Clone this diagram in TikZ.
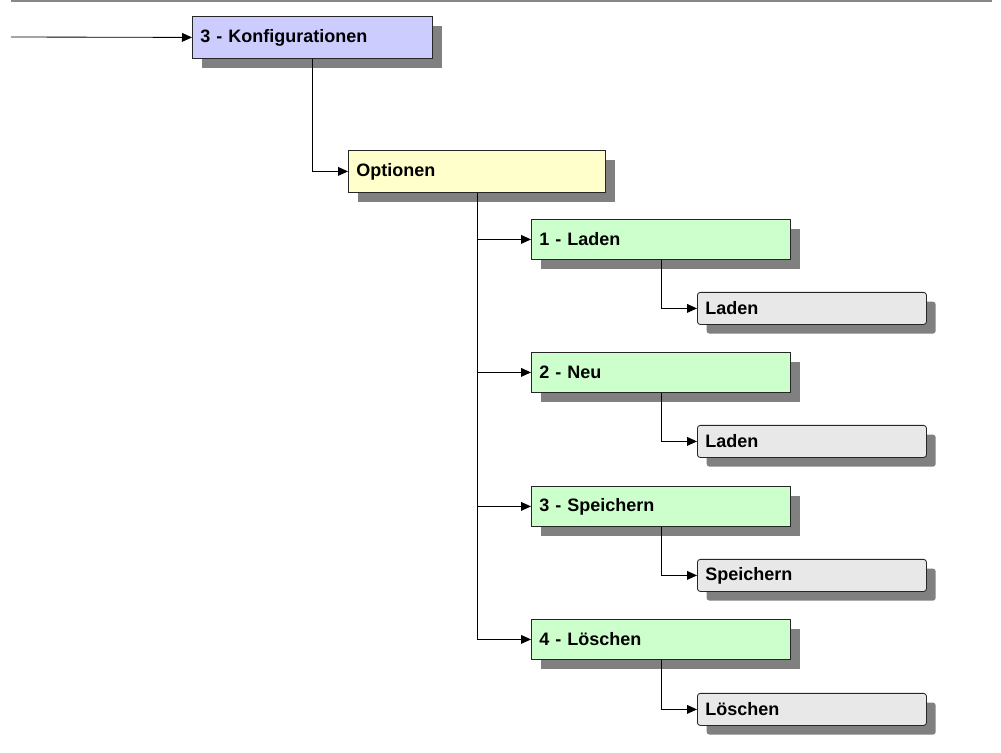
\documentclass[tikz,border=0pt]{standalone}
\usepackage{fontspec}
\setmainfont{Liberation Sans}
\usetikzlibrary{arrows.meta, positioning, shadows}
\usepackage{xcolor}
\definecolor{konfigblue}{HTML}{CCCCFF}
\definecolor{optionyellow}{HTML}{FFFFCC}
\definecolor{itemgreen}{HTML}{CCFFCC}
\definecolor{leafgray}{HTML}{E8E8E8}
\definecolor{framegray}{HTML}{888888}

\begin{document}
\begin{tikzpicture}[
    x=0.025cm, y=-0.025cm,
    menu/.style={draw=black!85, line width=0.6pt, anchor=north west, align=left, inner xsep=0.2cm,
        font=\bfseries\fontsize{12.8}{14}\selectfont,
        drop shadow={shadow xshift=0.23cm, shadow yshift=-0.23cm, fill=black!50, opacity=1}},
    mainbox/.style={menu, minimum height=1.05cm},
    itembox/.style={menu, minimum height=1cm, text width=6.075cm, fill=itemgreen},
    leafbox/.style={menu, rounded corners=2pt, minimum height=0.8cm, text width=5.325cm, fill=leafgray},
    arr/.style={-{Triangle[length=2.5mm, width=2.2mm]}, line width=0.6pt},
]
\useasboundingbox (0,0) rectangle (1001,753);
\draw[framegray, line width=1.5pt] (11,1) -- (992,1);

\node[mainbox, text width=5.6cm, fill=konfigblue] (konfig) at (192,16) {3 - Konfigurationen};
\node[mainbox, text width=6.025cm, fill=optionyellow] (optionen) at (348,150) {Optionen};

\node[itembox] (laden) at (531,219) {1 - Laden};
\node[leafbox] (ladenleaf) at (697,292) {Laden};

\node[itembox] (neu) at (531,352) {2 - Neu};
\node[leafbox] (neuleaf) at (697,425) {Laden};

\node[itembox] (speichern) at (531,486) {3 - Speichern};
\node[leafbox] (speichernleaf) at (697,559) {Speichern};

\node[itembox] (loeschen) at (531,619) {4 - Löschen};
\node[leafbox] (loeschenleaf) at (697,693) {Löschen};

\coordinate (entry) at (11,37);
\draw[arr] (entry) -- (konfig.west);
\draw[arr] (konfig.south) |- (optionen.west);

\draw[arr] (optionen.south) |- (laden.west);
\draw[arr] (optionen.south) |- (neu.west);
\draw[arr] (optionen.south) |- (speichern.west);
\draw[arr] (optionen.south) |- (loeschen.west);

\draw[arr] (laden.south) |- (ladenleaf.west);
\draw[arr] (neu.south) |- (neuleaf.west);
\draw[arr] (speichern.south) |- (speichernleaf.west);
\draw[arr] (loeschen.south) |- (loeschenleaf.west);

\end{tikzpicture}
\end{document}
